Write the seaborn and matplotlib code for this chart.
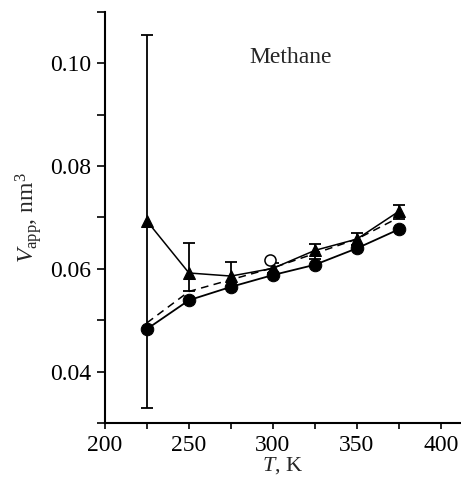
import matplotlib
matplotlib.use("Agg")
import matplotlib.pyplot as plt
import seaborn as sns
import pandas as pd
from matplotlib.ticker import MultipleLocator

T = [225, 250, 275, 300, 325, 350, 375]
v_circle = [0.0483, 0.0539, 0.0565, 0.0588, 0.0608, 0.0640, 0.0677]
v_triangle = [0.0693, 0.0592, 0.0586, 0.0601, 0.0636, 0.0658, 0.0712]
err_lo = [0.0363, 0.0035, 0.0025, 0.0010, 0.0017, 0.0012, 0.0014]
err_hi = [0.0362, 0.0059, 0.0027, 0.0010, 0.0013, 0.0012, 0.0013]
v_dashed = [0.0495, 0.0556, 0.0579, 0.0602, 0.0630, 0.0658, 0.0700]
open_T = [298]
open_v = [0.0617]

sns.set_style("ticks")
plt.rcParams["font.family"] = ["Liberation Serif", "DejaVu Serif"]
plt.rcParams["mathtext.fontset"] = "custom"
plt.rcParams["mathtext.rm"] = "Liberation Serif"
plt.rcParams["mathtext.it"] = "Liberation Serif:italic"

df_c = pd.DataFrame({"T": T, "V": v_circle})
df_t = pd.DataFrame({"T": T, "V": v_triangle})
df_d = pd.DataFrame({"T": T, "V": v_dashed})

fig = plt.figure(figsize=(4.61, 4.78), dpi=100)
ax = fig.add_axes([105 / 461, 1 - 423 / 478, (461 - 105) / 461, (423 - 12) / 478])

ax.errorbar(T, v_triangle, yerr=[err_lo, err_hi], fmt="none", ecolor="black",
            elinewidth=1.3, capsize=4, capthick=1.3, zorder=2)
sns.lineplot(data=df_d, x="T", y="V", ax=ax, color="black", lw=1.1,
             linestyle=(0, (5, 3.5)), zorder=2)
sns.lineplot(data=df_t, x="T", y="V", ax=ax, color="black", lw=1.1,
             marker="^", markersize=8.5, markeredgecolor="black", zorder=3)
sns.lineplot(data=df_c, x="T", y="V", ax=ax, color="black", lw=1.3,
             marker="o", markersize=9, markeredgecolor="black", zorder=3)
ax.plot(open_T, open_v, marker="o", markersize=8, markerfacecolor="white",
        markeredgecolor="black", markeredgewidth=1.1, linestyle="none", zorder=4)

ax.set_xlim(200, 412)
ax.set_ylim(0.030, 0.110)
ax.xaxis.set_major_locator(MultipleLocator(50))
ax.xaxis.set_minor_locator(MultipleLocator(25))
ax.yaxis.set_major_locator(MultipleLocator(0.02))
ax.yaxis.set_minor_locator(MultipleLocator(0.01))
ax.set_yticks([0.04, 0.06, 0.08, 0.10])
ax.set_yticklabels(["0.04", "0.06", "0.08", "0.10"])
ax.tick_params(axis="x", which="both", direction="out", length=4.5, width=1.2,
               labelsize=17, colors="black", pad=4)
ax.tick_params(axis="y", which="both", direction="out", length=6, width=1.2,
               labelsize=17, colors="black", pad=4)
for s in ["top", "right"]:
    ax.spines[s].set_visible(False)
for s in ["left", "bottom"]:
    ax.spines[s].set_linewidth(1.5)
    ax.spines[s].set_color("black")

ax.set_xlabel(r"$T$, K", fontsize=16, labelpad=-0.5)
ax.set_ylabel(r"$V_{\rm app}$, nm$^3$", fontsize=17, labelpad=4)
ax.text(286, 0.1012, "Methane", fontsize=17, va="center", ha="left")

fig.savefig("out.png", dpi=100)
